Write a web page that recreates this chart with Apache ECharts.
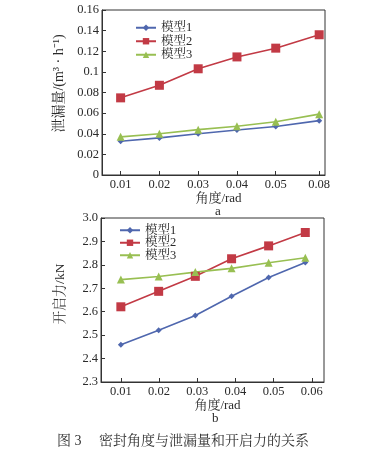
<!DOCTYPE html>
<html><head><meta charset="utf-8">
<script src="https://cdn.jsdelivr.net/npm/echarts@6/dist/echarts.min.js"></script>
<style>html,body{margin:0;padding:0;background:#fff}#c{width:369px;height:459px}</style>
</head><body><div id="c"></div>
<script>
// ---- data (a): leakage vs angle ----
const seriesNames = ['模型1', '模型2', '模型3'];
const angleA = [0.01, 0.02, 0.03, 0.04, 0.05, 0.0612];
const tickLabelsA = ['0.01', '0.02', '0.03', '0.04', '0.05', '0.08'];
const leakModel1 = [0.0327, 0.036, 0.040, 0.0437, 0.047, 0.0527];
const leakModel2 = [0.0748, 0.087, 0.103, 0.1145, 0.123, 0.136];
const leakModel3 = [0.037, 0.040, 0.044, 0.0473, 0.0517, 0.059];
// ---- data (b): opening force vs angle ----
const angleB = [0.01, 0.0199, 0.0295, 0.039, 0.0487, 0.0583];
const tickLabelsB = ['0.01', '0.02', '0.03', '0.04', '0.05', '0.06'];
const forceModel1 = [2.459, 2.521, 2.584, 2.666, 2.746, 2.81];
const forceModel2 = [2.621, 2.687, 2.751, 2.826, 2.881, 2.938];
const forceModel3 = [2.737, 2.75, 2.769, 2.785, 2.809, 2.83];

const FONT = '"Liberation Serif", "Noto Serif CJK SC", "Noto Sans CJK SC", serif';
const TXT = '#2a2a2a';
const colors = ['#4f67ae', '#c23a45', '#98bf52'];
const symbols = ['diamond', 'rect', 'triangle'];
const symSizes = [6, 9, 8];

function zip(xs, ys) { return xs.map((x, i) => [x, ys[i]]); }

function xAxis(gridIndex, ticks, labels, min, max) {
  return {
    type: 'value', gridIndex, min, max,
    axisLine: { show: true, lineStyle: { color: '#333', width: 1 } },
    axisTick: { show: true, inside: true, length: 4, customValues: ticks, lineStyle: { color: '#333' } },
    axisLabel: { customValues: ticks, margin: 3, color: TXT, fontFamily: FONT, fontSize: 12.5,
      formatter: v => { const i = ticks.findIndex(t => Math.abs(t - v) < 1e-6); return i >= 0 ? labels[i] : ''; } },
    splitLine: { show: false },
    name: '角度/rad', nameLocation: 'middle', nameGap: 17,
    nameTextStyle: { color: TXT, fontFamily: FONT, fontSize: 13, padding: [0, 0, 0, 10] }
  };
}
function yAxis(gridIndex, min, max, interval, name, nameGap, fmt, pad, fs) {
  return {
    type: 'value', gridIndex, min, max, interval,
    axisLine: { show: true, lineStyle: { color: '#333', width: 1 } },
    axisTick: { show: true, inside: true, length: 4, lineStyle: { color: '#333' } },
    axisLabel: { margin: 3, color: TXT, fontFamily: FONT, fontSize: 12.5, formatter: fmt },
    splitLine: { show: false },
    name, nameLocation: 'middle', nameGap,
    nameTextStyle: { color: TXT, fontFamily: FONT, fontSize: fs, padding: pad }
  };
}
function lines(xi, xs, ysList) {
  return ysList.map((ys, k) => ({
    type: 'line', name: seriesNames[k], xAxisIndex: xi, yAxisIndex: xi,
    data: zip(xs, ys), symbol: symbols[k], symbolSize: symSizes[k], showSymbol: true,
    itemStyle: { color: colors[k] }, lineStyle: { color: colors[k], width: 1.6 }, animation: false
  }));
}

const chart = echarts.init(document.getElementById('c'), null, { renderer: 'canvas' });
chart.setOption({
  backgroundColor: '#fff',
  animation: false,
  grid: [
    { left: 102, top: 10, width: 223, height: 165, show: true, borderColor: '#333', borderWidth: 1, containLabel: false },
    { left: 101, top: 218, width: 223, height: 164, show: true, borderColor: '#333', borderWidth: 1, containLabel: false }
  ],
  legend: [
    { data: seriesNames.map(n => ({ name: n })), orient: 'vertical', left: 130, top: 16, itemWidth: 20, itemHeight: 8, itemGap: 0,
      textStyle: { color: TXT, fontFamily: FONT, fontSize: 12.5, lineHeight: 13.5 } },
    { data: seriesNames.map(n => ({ name: n })), orient: 'vertical', left: 114, top: 219, itemWidth: 20, itemHeight: 8, itemGap: 0,
      textStyle: { color: TXT, fontFamily: FONT, fontSize: 12.5, lineHeight: 12.5 } }
  ],
  xAxis: [
    xAxis(0, angleA, tickLabelsA, 0.0052, 0.0627),
    xAxis(1, [0.01, 0.02, 0.03, 0.04, 0.05, 0.06], tickLabelsB, 0.0048, 0.0632)
  ],
  yAxis: [
    yAxis(0, 0, 0.16, 0.02, '泄漏量/(m³ · h⁻¹)', 21, null, [0, 0, 0, 18], 14),
    yAxis(1, 2.3, 3.0, 0.1, '开启力/kN', 34, v => v.toFixed(1), [0, 0, 0, 12], 13.5)
  ],
  series: [
    ...lines(0, angleA, [leakModel1, leakModel2, leakModel3]),
    ...lines(1, angleB, [forceModel1, forceModel2, forceModel3])
  ],
  graphic: [
    { type: 'text', left: 215, top: 205, style: { text: 'a', fill: TXT, font: '13px ' + FONT } },
    { type: 'text', left: 212, top: 412, style: { text: 'b', fill: TXT, font: '13px ' + FONT } },
    { type: 'text', left: 57, top: 434, style: { text: '图 3', fill: '#333', font: '14px ' + FONT } },
    { type: 'text', left: 99, top: 434, style: { text: '密封角度与泄漏量和开启力的关系', fill: '#333', font: '14px ' + FONT } }
  ]
});
</script></body></html>
